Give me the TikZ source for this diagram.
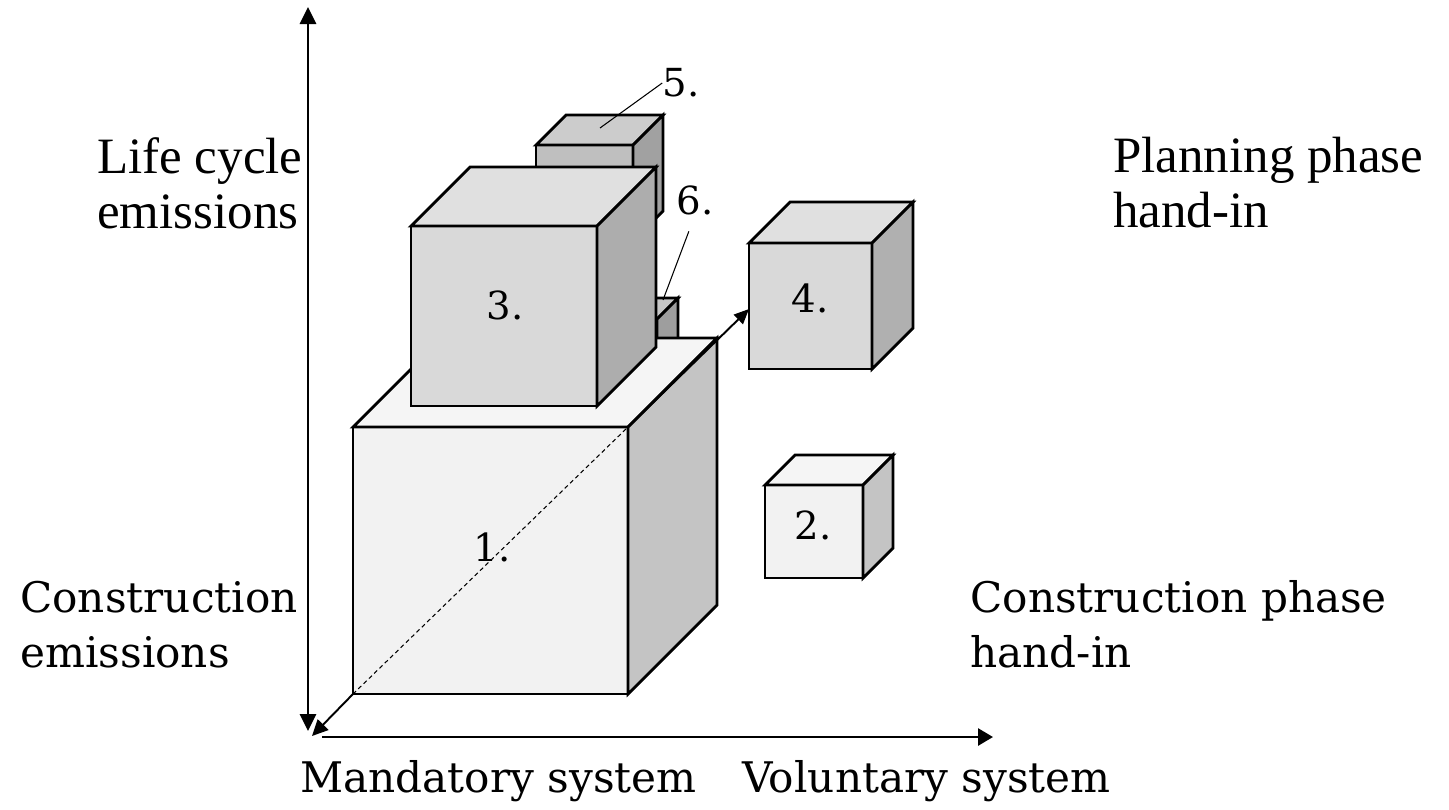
\documentclass[tikz,border=0pt]{standalone}
\usepackage{fontspec}
\setmainfont{Liberation Serif}
\newfontfamily\georgia{DejaVu Serif}
\usetikzlibrary{arrows.meta}
\def\drawcube(#1,#2)(#3,#4,#5)(#6,#7,#8){%
	\draw[edge, fill=#6] (#1,#2) rectangle ({#1+#3},{#2+#4});
	\draw[edge, fill=#7] (#1,#2) -- ({#1+#5},{#2-#5}) -- ({#1+#3+#5},{#2-#5}) -- ({#1+#3},#2) -- cycle;
	\draw[edge, fill=#8] ({#1+#3},#2) -- ({#1+#3+#5},{#2-#5}) -- ({#1+#3+#5},{#2+#4-#5}) -- ({#1+#3},{#2+#4}) -- cycle;}

\begin{document}
\begin{tikzpicture}[x=0.02cm, y=-0.02cm,
	edge/.style={line width=1.6pt, line join=miter},
	axis/.style={line width=1.6pt},
	leader/.style={line width=0.6pt},
	num/.style={font=\georgia\fontsize{22}{26}\selectfont, inner sep=0pt},
	tlabel/.style={font=\fontsize{29}{31.3}\selectfont, align=left, anchor=base west, inner sep=0pt},
	glabel/.style={font=\georgia\fontsize{24}{31.3}\selectfont, align=left, anchor=base west, inner sep=0pt}]
	%%%%% START %%%%%
	\useasboundingbox (0,0) rectangle (1449,809);
	
	% blocks, back to front
	\drawcube(536,145)(97,96,30)(black!25,black!20,black!37)
	\drawcube(617,319)(40,40,21)(black!25,black!22,black!38)
	\drawcube(353,427)(275,267,89)(black!5,black!4,black!23)
	\drawcube(411,226)(186,180,59)(black!15,black!12,black!32)
	\drawcube(749,243)(123,126,41)(black!15,black!12,black!31)
	\drawcube(765,485)(98,93,30)(black!5,black!4,black!23)
	
	\node[num] (n1) at (492,547) {1.};
	\node[num] (n2) at (813,525) {2.};
	\node[num] (n3) at (505,305) {3.};
	\node[num] (n4) at (810,298) {4.};
	\node[num] (n5) at (681,83) {5.};
	\node[num] (n6) at (695,200) {6.};
	
	\coordinate (c5) at (600,128);
	\coordinate (c6) at (663,300);
	\draw[leader] (n5.west) -- (c5);
	\draw[leader, shorten <=0.35cm] (n6.south) -- (c6);
	
	% axes
	\coordinate (ytop) at (308,7);
	\coordinate (ybot) at (308,731);
	\coordinate (xleft) at (322,737);
	\coordinate (xright) at (993,737);
	\coordinate (dtip) at (312,736);
	\coordinate (dfront) at (353,694);
	\coordinate (dback) at (628,427);
	\coordinate (dend) at (749,309);
	\draw[axis, {Triangle[length=0.34cm, width=0.32cm]}-{Triangle[length=0.34cm, width=0.32cm]}] (ybot) -- (ytop);
	\draw[axis, -{Triangle[length=0.3cm, width=0.34cm]}] (xleft) -- (xright);
	\draw[line width=1.1pt, {Triangle[length=0.32cm, width=0.3cm]}-] (dtip) -- (dfront);
	\draw[leader, dash pattern=on 2.4pt off 1.8pt] (dfront) -- (dback);
	\draw[line width=1.1pt, -{Triangle[length=0.3cm, width=0.26cm]}] (dback) -- (dend);
	
	% texts
	\node[tlabel] (life) at (97,228) {Life cycle\\emissions};
	\node[tlabel] (plan) at (1113,227) {Planning phase\\hand-in};
	\node[glabel] (cons) at (20,667) {Construction\\emissions};
	\node[glabel] (build) at (970,667) {Construction phase\\hand-in};
	\node[glabel] (mand) at (300,792) {Mandatory system};
	\node[glabel] (vol) at (742,792) {Voluntary system};
	
	%%%%% END %%%%%
\end{tikzpicture}
\end{document}
